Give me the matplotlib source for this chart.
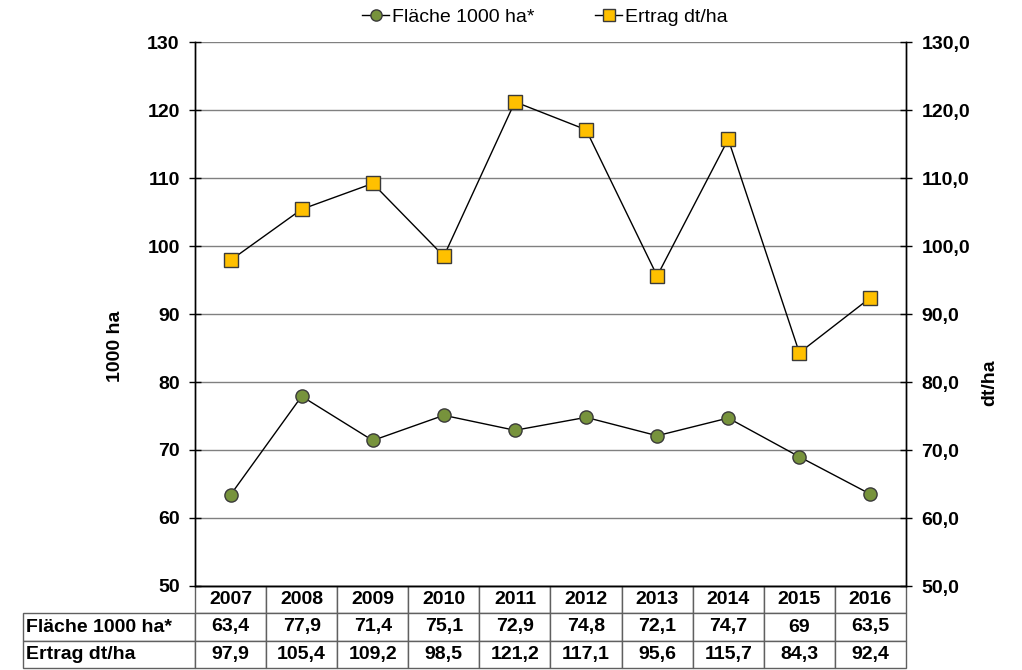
import matplotlib
matplotlib.use('Agg')
import matplotlib.pyplot as plt
from matplotlib.ticker import FuncFormatter, MultipleLocator

plt.rcParams['font.family'] = ['Liberation Sans', 'DejaVu Sans']

years = ['2007', '2008', '2009', '2010', '2011', '2012', '2013', '2014', '2015', '2016']
flaeche = [63.4, 77.9, 71.4, 75.1, 72.9, 74.8, 72.1, 74.7, 69.0, 63.5]
ertrag = [97.9, 105.4, 109.2, 98.5, 121.2, 117.1, 95.6, 115.7, 84.3, 92.4]
row_labels = ['Fläche 1000 ha*', 'Ertrag dt/ha']


def fmt(v):
    return f"{v:g}".replace('.', ',')


FS = 14
W, H = 1022, 670
fig = plt.figure(figsize=(W / 100, H / 100), dpi=100)
left, right, top, bottom = 195, 906, 42, 586
ax = fig.add_axes([left / W, 1 - bottom / H, (right - left) / W, (bottom - top) / H])
ax2 = ax.twinx()

x = list(range(len(years)))
l1, = ax.plot(x, flaeche, color='black', lw=1, marker='o', ms=9.5,
              mfc='#77933C', mec='#3a3a3a', mew=1, label='Fläche 1000 ha*')
l2, = ax2.plot(x, ertrag, color='black', lw=1, marker='s', ms=9.5,
               mfc='#FFC000', mec='#3a3a3a', mew=1, label='Ertrag dt/ha')

for a in (ax, ax2):
    a.set_xlim(-0.5, len(years) - 0.5)
    a.set_ylim(50, 130)
    a.yaxis.set_major_locator(MultipleLocator(10))
    a.set_xticks([])
    a.tick_params(axis='y', direction='inout', length=8, width=1, pad=7,
                  labelsize=FS)
    for s in a.spines.values():
        s.set_linewidth(1)
    a.spines['top'].set_visible(False)

for lab in ax.get_yticklabels() + ax2.get_yticklabels():
    lab.set_fontweight('bold')
ax2.yaxis.set_major_formatter(FuncFormatter(lambda v, p: f"{v:.1f}".replace('.', ',')))
ax.grid(axis='y', color='#808080', lw=1)
ax.set_axisbelow(True)

fig.text(115 / W, 1 - 346 / H, '1000 ha', rotation=90, ha='center', va='center',
         fontsize=FS, fontweight='bold')
fig.text(990 / W, 1 - 383 / H, 'dt/ha', rotation=90, ha='center', va='center',
         fontsize=FS, fontweight='bold')

fig.legend([l1, l2], [l1.get_label(), l2.get_label()], ncol=2, loc='center',
           bbox_to_anchor=(545 / W, 1 - 17 / H), frameon=False, fontsize=FS,
           handlelength=1.4, handletextpad=0.15, columnspacing=3.1, markerscale=0.85,
           borderpad=0, borderaxespad=0)

# data table below the plot
cells = [[''] + years,
         [row_labels[0]] + [fmt(v) for v in flaeche],
         [row_labels[1]] + [fmt(v) for v in ertrag]]
lab_w = left - 23
col_w = (right - left) / len(years)
widths = [lab_w / (right - left)] + [col_w / (right - left)] * len(years)
ax_h = bottom - top
tbl = ax.table(cellText=cells, colWidths=widths, cellLoc='center',
               bbox=[-lab_w / (right - left), -(668 - bottom) / ax_h,
                     (right - 23) / (right - left), (668 - bottom) / ax_h])
tbl.auto_set_font_size(False)
for (r, c), cell in tbl.get_celld().items():
    cell.set_edgecolor('#606060')
    cell.set_linewidth(1)
    cell.get_text().set_fontsize(FS)
    cell.get_text().set_fontweight('bold')
    if c == 0:
        cell.get_text().set_ha('left')
        cell.PAD = 0.02
        if r == 0:
            cell.visible_edges = ''

fig.savefig('out.png', dpi=100)
